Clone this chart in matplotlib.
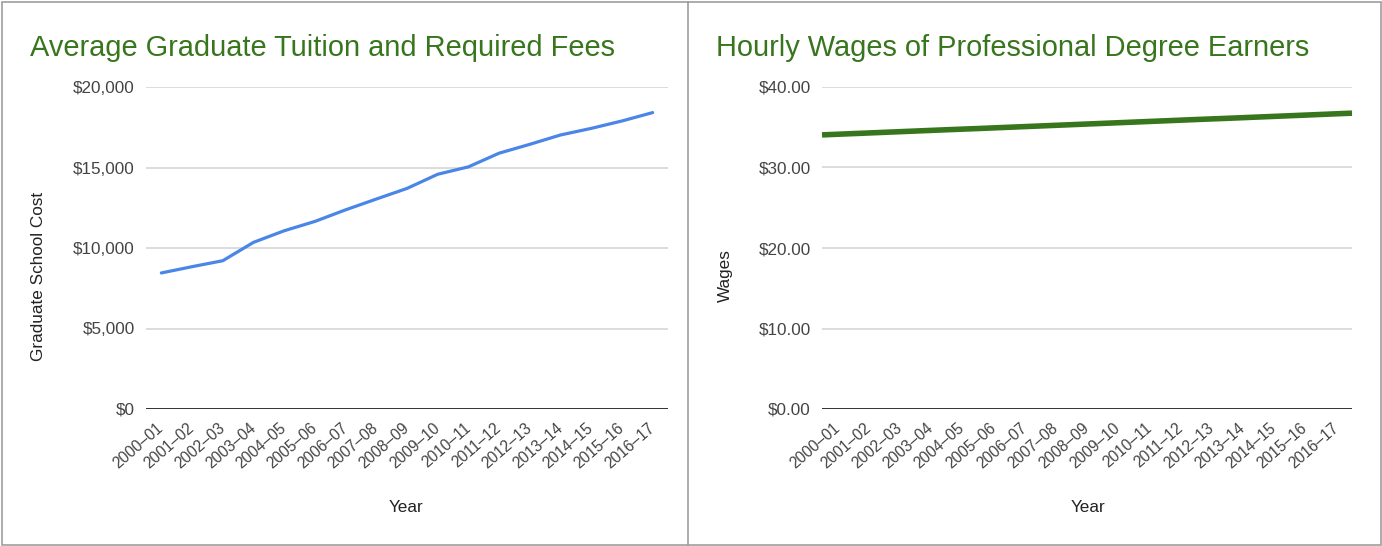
import matplotlib
matplotlib.use("Agg")
import matplotlib.pyplot as plt
import numpy as np
from matplotlib.patches import Rectangle
from matplotlib.lines import Line2D
from matplotlib.ticker import FuncFormatter

plt.rcParams['font.family'] = ['Liberation Sans', 'DejaVu Sans']

years = ["2000–01", "2001–02", "2002–03", "2003–04", "2004–05", "2005–06",
         "2006–07", "2007–08", "2008–09", "2009–10", "2010–11", "2011–12",
         "2012–13", "2013–14", "2014–15", "2015–16", "2016–17"]
tuition = [8450, 8840, 9210, 10350, 11070, 11650, 12370, 13040, 13700,
           14580, 15040, 15890, 16440, 17020, 17430, 17890, 18410]

# wage line spans the full category range (year boundaries 2000 .. 2017)
wage_years = list(range(2000, 2018))
wages = [34.05, 34.21, 34.37, 34.53, 34.69, 34.84, 35.00, 35.16, 35.32,
         35.48, 35.64, 35.80, 35.96, 36.11, 36.27, 36.43, 36.59, 36.75]

W, H = 1382, 546
fig = plt.figure(figsize=(W / 100, H / 100), dpi=100)
fig.patch.set_facecolor("white")

def px_axes(x0, x1, y0, y1):
    return fig.add_axes([x0 / W, 1 - y1 / H, (x1 - x0) / W, (y1 - y0) / H])

title_color = "#38761d"
tick_color = "#444444"
grid_color = "#d9d9d9"
tick_fs = 12.3
xtick_fs = 11.2

def style(ax, ymax, step, fmt):
    ax.set_xlim(-0.5, len(years) - 0.5)
    ax.set_ylim(0, ymax)
    ax.set_yticks(np.arange(0, ymax + step / 2, step))
    ax.yaxis.set_major_formatter(FuncFormatter(fmt))
    ax.set_xticks(range(len(years)))
    ax.set_xticklabels(years, rotation=41, ha="right", va="center",
                       rotation_mode="anchor", fontsize=xtick_fs, color=tick_color)
    ax.tick_params(axis="both", length=0, labelcolor=tick_color)
    ax.tick_params(axis="y", pad=8, labelsize=tick_fs)
    ax.tick_params(axis="x", pad=12.5)
    for s in ax.spines.values():
        s.set_visible(False)
    ax.grid(axis="y", color=grid_color, linewidth=1.3)
    ax.set_axisbelow(True)
    ax.axhline(0, color="#333333", linewidth=1.4, zorder=3)

# left chart
ax1 = px_axes(146, 668, 87, 409)
style(ax1, 20000, 5000, lambda v, p: "${:,.0f}".format(v))
ax1.plot(range(len(years)), tuition, color="#4a86e8", linewidth=2.3,
         solid_capstyle="round", solid_joinstyle="round", zorder=4)

# right chart
ax2 = px_axes(822, 1352, 87, 409)
style(ax2, 40, 10, lambda v, p: "${:,.2f}".format(v))
ax2.plot([y - 2000 - 0.5 for y in wage_years], wages, color="#38761d",
         linewidth=4.0, solid_capstyle="butt", zorder=4, clip_on=False)

# titles and axis titles
fig.text(30 / W, 1 - 56 / H, "Average Graduate Tuition and Required Fees",
         fontsize=20.9, color=title_color, ha="left", va="baseline")
fig.text(716 / W, 1 - 56 / H, "Hourly Wages of Professional Degree Earners",
         fontsize=20.9, color=title_color, ha="left", va="baseline")
fig.text(39 / W, 1 - 276 / H, "Graduate School Cost", rotation=90,
         fontsize=12.3, color="#222222", ha="center", va="center")
fig.text(725 / W, 1 - 276 / H, "Wages", rotation=90,
         fontsize=12.3, color="#222222", ha="center", va="center")
fig.text(406 / W, 1 - 508 / H, "Year", fontsize=12.3, color="#222222",
         ha="center", va="center")
fig.text(1088 / W, 1 - 508 / H, "Year", fontsize=12.3, color="#222222",
         ha="center", va="center")

# borders
fig.add_artist(Rectangle((1.5 / W, 1.5 / H), (W - 3) / W, (H - 3) / H,
                         transform=fig.transFigure, fill=False,
                         edgecolor="#9e9e9e", linewidth=1.2))
fig.add_artist(Line2D([688 / W, 688 / W], [1.5 / H, 1 - 1.5 / H],
                      transform=fig.transFigure, color="#9e9e9e", linewidth=1.2))

fig.savefig("out.png", dpi=100)
